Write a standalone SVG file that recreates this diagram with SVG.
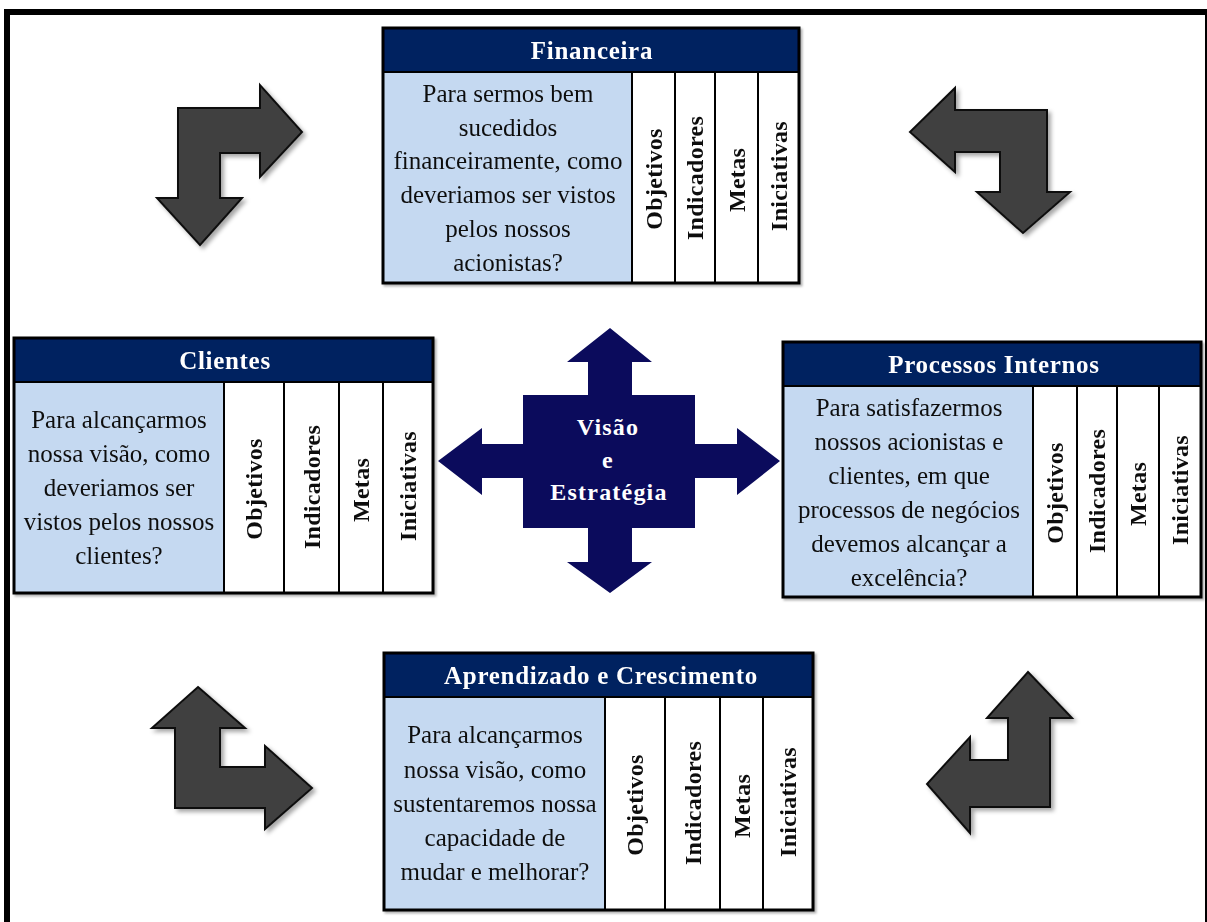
<svg xmlns="http://www.w3.org/2000/svg" width="1207" height="922" viewBox="0 0 1207 922">
  <style>
    .frame { fill: #ffffff; stroke: #000000; stroke-width: 6; }
    .head { fill: #002060; }
    .body { fill: #c5d9f1; }
    .col { fill: #ffffff; }
    .box { fill: none; stroke: #000000; stroke-width: 3; }
    .div { stroke: #000000; stroke-width: 2; }
    .title { font-family: "Liberation Serif", "Times New Roman", serif; font-weight: bold; font-size: 25px; letter-spacing: 0.7px; fill: #ffffff; text-anchor: middle; }
    .q { font-family: "Liberation Serif", "Times New Roman", serif; font-size: 25px; fill: #111111; text-anchor: middle; }
    .vl { font-family: "Liberation Serif", "Times New Roman", serif; font-weight: bold; font-size: 24px; letter-spacing: 0.3px; fill: #111111; text-anchor: middle; dominant-baseline: central; }
    .bend { fill: #404040; stroke: #111111; stroke-width: 2; stroke-linejoin: miter; filter: url(#soft); }
    .cross { fill: #0b0b5c; }
    .ctext { font-family: "Liberation Serif", "Times New Roman", serif; font-weight: bold; font-size: 24px; letter-spacing: 1.2px; fill: #ffffff; text-anchor: middle; }
  </style>
  <defs>
    <filter id="soft" x="-20%" y="-20%" width="150%" height="150%">
      <feDropShadow dx="3" dy="3" stdDeviation="2" flood-color="#000000" flood-opacity="0.35"/>
    </filter>
    <filter id="boxshadow" x="-5%" y="-5%" width="110%" height="110%">
      <feDropShadow dx="2" dy="2" stdDeviation="1.2" flood-color="#000000" flood-opacity="0.3"/>
    </filter>
  </defs>

  <!-- outer frame -->
  <rect class="frame" x="7" y="12" width="1201" height="930"/>

  <!-- bent arrows between the perspectives -->
  <g id="connectors">
    <polygon class="bend" points="178,108 260,108 260,85 302,132 260,177 260,153 220,153 220,198 242,198 200,245 157,198 178,198"/>
    <polygon class="bend" points="910,132 955,88 955,110 1047,110 1047,192 1070,192 1023,233 977,192 1000,192 1000,152 955,152 955,172"/>
    <polygon class="bend" points="198,687 245,728 220,728 220,767 265,767 265,746 312,788 265,829 265,808 175,808 175,728 152,728"/>
    <polygon class="bend" points="1028,672 1072,718 1050,718 1050,807 970,807 970,833 927,784 970,737 970,760 1008,760 1008,718 987,718"/>
  </g>

  <!-- central vision and strategy cross -->
  <g id="visao-estrategia">
    <polygon class="cross" points="610,328 652,362 632,362 632,395 695,395 695,444 737,444 737,428 780,461 737,495 737,478 695,478 695,528 632,528 632,562 652,562 610,593 567,562 588,562 588,528 523,528 523,478 482,478 482,495 438,461 482,428 482,444 523,444 523,395 588,395 588,362 567,362"/>
    <text class="ctext" x="608" y="435">Visão</text>
    <text class="ctext" x="608" y="468">e</text>
    <text class="ctext" x="609" y="500">Estratégia</text>
  </g>

  <!-- Financeira -->
  <g id="financeira" filter="url(#boxshadow)">
    <rect class="head" x="383" y="28" width="416" height="44"/>
    <rect class="body" x="383" y="72" width="249" height="211"/>
    <rect class="col" x="632" y="72" width="167" height="211"/>
    <line class="div" x1="383" y1="72" x2="799" y2="72"/>
    <line class="div" x1="632" y1="72" x2="632" y2="283"/>
    <line class="div" x1="675" y1="72" x2="675" y2="283"/>
    <line class="div" x1="715" y1="72" x2="715" y2="283"/>
    <line class="div" x1="758" y1="72" x2="758" y2="283"/>
    <rect class="box" x="383" y="28" width="416" height="255"/>
    <text class="title" x="592" y="59">Financeira</text>
    <text class="q" x="508" y="102">Para sermos bem</text>
    <text class="q" x="508" y="136">sucedidos</text>
    <text class="q" x="508" y="169">financeiramente, como</text>
    <text class="q" x="508" y="203">deveriamos ser vistos</text>
    <text class="q" x="508" y="237">pelos nossos</text>
    <text class="q" x="508" y="271">acionistas?</text>
    <text class="vl" transform="translate(653.5,179) rotate(-90)">Objetivos</text>
    <text class="vl" transform="translate(695,178) rotate(-90)">Indicadores</text>
    <text class="vl" transform="translate(736.5,180) rotate(-90)">Metas</text>
    <text class="vl" transform="translate(778.5,176) rotate(-90)">Iniciativas</text>
  </g>

  <!-- Clientes -->
  <g id="clientes" filter="url(#boxshadow)">
    <rect class="head" x="14" y="338" width="419" height="44"/>
    <rect class="body" x="14" y="382" width="210" height="211"/>
    <rect class="col" x="224" y="382" width="209" height="211"/>
    <line class="div" x1="14" y1="382" x2="433" y2="382"/>
    <line class="div" x1="224" y1="382" x2="224" y2="593"/>
    <line class="div" x1="284" y1="382" x2="284" y2="593"/>
    <line class="div" x1="339" y1="382" x2="339" y2="593"/>
    <line class="div" x1="383" y1="382" x2="383" y2="593"/>
    <rect class="box" x="14" y="338" width="419" height="255"/>
    <text class="title" x="225" y="369">Clientes</text>
    <text class="q" x="119" y="428">Para alcançarmos</text>
    <text class="q" x="119" y="462">nossa visão, como</text>
    <text class="q" x="119" y="496">deveriamos ser</text>
    <text class="q" x="119" y="530">vistos pelos nossos</text>
    <text class="q" x="119" y="564">clientes?</text>
    <text class="vl" transform="translate(254,489) rotate(-90)">Objetivos</text>
    <text class="vl" transform="translate(311.5,487) rotate(-90)">Indicadores</text>
    <text class="vl" transform="translate(361,490) rotate(-90)">Metas</text>
    <text class="vl" transform="translate(408,486) rotate(-90)">Iniciativas</text>
  </g>

  <!-- Processos Internos -->
  <g id="processos-internos" filter="url(#boxshadow)">
    <rect class="head" x="783" y="342" width="418" height="44"/>
    <rect class="body" x="783" y="386" width="250" height="211"/>
    <rect class="col" x="1033" y="386" width="168" height="211"/>
    <line class="div" x1="783" y1="386" x2="1201" y2="386"/>
    <line class="div" x1="1033" y1="386" x2="1033" y2="597"/>
    <line class="div" x1="1077" y1="386" x2="1077" y2="597"/>
    <line class="div" x1="1117" y1="386" x2="1117" y2="597"/>
    <line class="div" x1="1159" y1="386" x2="1159" y2="597"/>
    <rect class="box" x="783" y="342" width="418" height="255"/>
    <text class="title" x="994" y="373">Processos Internos</text>
    <text class="q" x="909" y="416">Para satisfazermos</text>
    <text class="q" x="909" y="450">nossos acionistas e</text>
    <text class="q" x="909" y="484">clientes, em que</text>
    <text class="q" x="909" y="518">processos de negócios</text>
    <text class="q" x="909" y="552">devemos alcançar a</text>
    <text class="q" x="909" y="586">excelência?</text>
    <text class="vl" transform="translate(1055,493) rotate(-90)">Objetivos</text>
    <text class="vl" transform="translate(1097,491) rotate(-90)">Indicadores</text>
    <text class="vl" transform="translate(1138,494) rotate(-90)">Metas</text>
    <text class="vl" transform="translate(1180,490) rotate(-90)">Iniciativas</text>
  </g>

  <!-- Aprendizado e Crescimento -->
  <g id="aprendizado-crescimento" filter="url(#boxshadow)">
    <rect class="head" x="384" y="653" width="429" height="44"/>
    <rect class="body" x="384" y="697" width="221" height="213"/>
    <rect class="col" x="605" y="697" width="208" height="213"/>
    <line class="div" x1="384" y1="697" x2="813" y2="697"/>
    <line class="div" x1="605" y1="697" x2="605" y2="910"/>
    <line class="div" x1="665" y1="697" x2="665" y2="910"/>
    <line class="div" x1="720" y1="697" x2="720" y2="910"/>
    <line class="div" x1="763" y1="697" x2="763" y2="910"/>
    <rect class="box" x="384" y="653" width="429" height="257"/>
    <text class="title" x="601" y="684">Aprendizado e Crescimento</text>
    <text class="q" x="495" y="743">Para alcançarmos</text>
    <text class="q" x="495" y="778">nossa visão, como</text>
    <text class="q" x="495" y="812">sustentaremos nossa</text>
    <text class="q" x="495" y="846">capacidade de</text>
    <text class="q" x="495" y="880">mudar e melhorar?</text>
    <text class="vl" transform="translate(635,805) rotate(-90)">Objetivos</text>
    <text class="vl" transform="translate(692.5,803) rotate(-90)">Indicadores</text>
    <text class="vl" transform="translate(741.5,806) rotate(-90)">Metas</text>
    <text class="vl" transform="translate(788,802) rotate(-90)">Iniciativas</text>
  </g>
</svg>
